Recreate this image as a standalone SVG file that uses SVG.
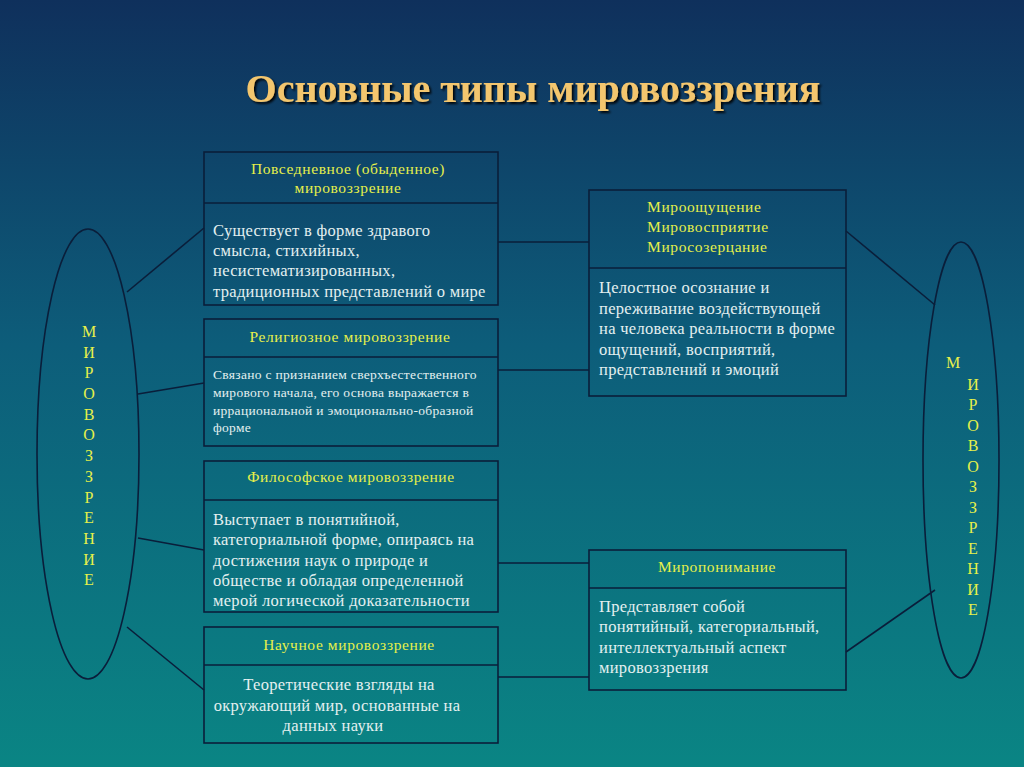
<svg xmlns="http://www.w3.org/2000/svg" width="1024" height="767" viewBox="0 0 1024 767">
<defs>
<linearGradient id="bg" x1="0" y1="0" x2="0" y2="1">
<stop offset="0" stop-color="#0f305c"/>
<stop offset="0.45" stop-color="#0d5d7a"/>
<stop offset="1" stop-color="#0a8584"/>
</linearGradient>
<filter id="sh" x="-5%" y="-20%" width="110%" height="150%">
<feDropShadow dx="2" dy="2" stdDeviation="0.8" flood-color="#000" flood-opacity="0.9"/>
</filter>
</defs>
<style>
.box{fill:none;stroke:#0a1e3a;stroke-width:1.6}
.ln{stroke:#0a1e3a;stroke-width:1.6;fill:none}
text{font-family:"Liberation Serif","Times New Roman","DejaVu Serif",serif}
.hd{font-size:15.5px;letter-spacing:0.6px;fill:#e6f04a}
.bd{font-size:16.5px;letter-spacing:0.3px;fill:#e4f0f0}
.sm{font-size:13.5px;letter-spacing:0.3px;fill:#e4f0f0}
.lt{font-size:16px;fill:#e6f04a;text-anchor:middle}
.c{text-anchor:middle}
.title{font-weight:bold;font-size:40px;fill:#f3c66e;text-anchor:middle}
</style>
<rect x="0" y="0" width="1024" height="767" fill="url(#bg)"/>
<text class="title" x="533" y="102" filter="url(#sh)">Основные типы мировоззрения</text>

<g id="connectors">
<line class="ln" x1="127" y1="292" x2="204" y2="228"/>
<line class="ln" x1="138" y1="394" x2="204" y2="383"/>
<line class="ln" x1="138" y1="538" x2="204" y2="550"/>
<line class="ln" x1="127" y1="627" x2="204" y2="690"/>
<line class="ln" x1="498" y1="242" x2="589" y2="242"/>
<line class="ln" x1="498" y1="370" x2="589" y2="370"/>
<line class="ln" x1="498" y1="563" x2="589" y2="563"/>
<line class="ln" x1="498" y1="677" x2="589" y2="677"/>
<line class="ln" x1="846" y1="231" x2="935" y2="305"/>
<line class="ln" x1="846" y1="652" x2="935" y2="590"/>
</g>

<g id="ellipse-left">
<ellipse class="box" cx="88" cy="454" rx="51" ry="225"/>
<text class="lt" x="89" y="337">М</text>
<text class="lt" x="89" y="358">И</text>
<text class="lt" x="89" y="378">Р</text>
<text class="lt" x="89" y="399">О</text>
<text class="lt" x="89" y="420">В</text>
<text class="lt" x="89" y="440">О</text>
<text class="lt" x="89" y="461">З</text>
<text class="lt" x="89" y="482">З</text>
<text class="lt" x="89" y="503">Р</text>
<text class="lt" x="89" y="523">Е</text>
<text class="lt" x="89" y="544">Н</text>
<text class="lt" x="89" y="565">И</text>
<text class="lt" x="89" y="585">Е</text>
</g>

<g id="ellipse-right">
<ellipse class="box" cx="961" cy="460" rx="38" ry="218"/>
<text class="lt" x="953" y="368">М</text>
<text class="lt" x="973" y="390">И</text>
<text class="lt" x="973" y="410">Р</text>
<text class="lt" x="973" y="431">О</text>
<text class="lt" x="973" y="451">В</text>
<text class="lt" x="973" y="472">О</text>
<text class="lt" x="973" y="492">З</text>
<text class="lt" x="973" y="513">З</text>
<text class="lt" x="973" y="533">Р</text>
<text class="lt" x="973" y="554">Е</text>
<text class="lt" x="973" y="574">Н</text>
<text class="lt" x="973" y="595">И</text>
<text class="lt" x="973" y="615">Е</text>
</g>

<g id="box-everyday">
<rect class="box" x="204" y="152" width="294" height="153"/>
<line class="ln" x1="204" y1="203" x2="498" y2="203"/>
<text class="hd c" x="348" y="174">Повседневное (обыденное)</text>
<text class="hd c" x="348" y="193">мировоззрение</text>
<text class="bd" x="213" y="236">Существует в форме здравого</text>
<text class="bd" x="213" y="256">смысла, стихийных,</text>
<text class="bd" x="213" y="276">несистематизированных,</text>
<text class="bd" x="213" y="297">традиционных представлений о мире</text>
</g>

<g id="box-religious">
<rect class="box" x="204" y="319" width="294" height="127"/>
<line class="ln" x1="204" y1="357" x2="498" y2="357"/>
<text class="hd c" x="350" y="342">Религиозное мировоззрение</text>
<text class="sm" x="213" y="379">Связано с признанием сверхъестественного</text>
<text class="sm" x="213" y="397">мирового начала, его основа выражается в</text>
<text class="sm" x="213" y="415">иррациональной и эмоционально-образной</text>
<text class="sm" x="213" y="432">форме</text>
</g>

<g id="box-philosophical">
<rect class="box" x="204" y="461" width="294" height="151"/>
<line class="ln" x1="204" y1="500" x2="498" y2="500"/>
<text class="hd c" x="351" y="482">Философское мировоззрение</text>
<text class="bd" x="213" y="525">Выступает в понятийной,</text>
<text class="bd" x="213" y="545">категориальной форме, опираясь на</text>
<text class="bd" x="213" y="566">достижения наук о природе и</text>
<text class="bd" x="213" y="586">обществе и обладая определенной</text>
<text class="bd" x="213" y="606">мерой логической доказательности</text>
</g>

<g id="box-scientific">
<rect class="box" x="204" y="627" width="294" height="116"/>
<line class="ln" x1="204" y1="665" x2="498" y2="665"/>
<text class="hd c" x="349" y="650">Научное мировоззрение</text>
<text class="bd c" x="339" y="690">Теоретические взгляды на</text>
<text class="bd c" x="337" y="711">окружающий мир, основанные на</text>
<text class="bd c" x="333" y="731">данных науки</text>
</g>

<g id="box-perception">
<rect class="box" x="589" y="190" width="257" height="206"/>
<line class="ln" x1="589" y1="268" x2="846" y2="268"/>
<text class="hd" x="647" y="212">Мироощущение</text>
<text class="hd" x="647" y="232">Мировосприятие</text>
<text class="hd" x="647" y="252">Миросозерцание</text>
<text class="bd" x="599" y="293">Целостное осознание и</text>
<text class="bd" x="599" y="314">переживание воздействующей</text>
<text class="bd" x="599" y="334">на человека реальности в форме</text>
<text class="bd" x="599" y="355">ощущений, восприятий,</text>
<text class="bd" x="599" y="375">представлений и эмоций</text>
</g>

<g id="box-understanding">
<rect class="box" x="589" y="550" width="257" height="140"/>
<line class="ln" x1="589" y1="588" x2="846" y2="588"/>
<text class="hd c" x="717" y="572">Миропонимание</text>
<text class="bd" x="599" y="612">Представляет собой</text>
<text class="bd" x="599" y="632">понятийный, категориальный,</text>
<text class="bd" x="599" y="653">интеллектуальный аспект</text>
<text class="bd" x="599" y="673">мировоззрения</text>
</g>
</svg>
